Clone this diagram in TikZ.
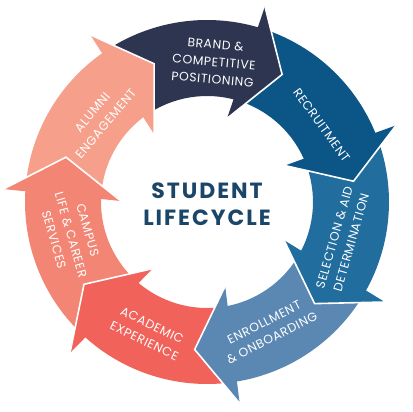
\documentclass[tikz,border=0pt]{standalone}
\usepackage{fontspec}
\setmainfont{Poppins}
\definecolor{brandc}{RGB}{46,53,80}
\definecolor{recruitc}{RGB}{12,85,135}
\definecolor{selectc}{RGB}{33,109,158}
\definecolor{enrollc}{RGB}{91,135,179}
\definecolor{academicc}{RGB}{240,98,90}
\definecolor{campusc}{RGB}{242,133,116}
\definecolor{alumnic}{RGB}{246,160,140}
\definecolor{hubc}{RGB}{27,70,104}
\tikzset{
	gap/.style={draw=white,line width=1.6pt},
	lbl/.style={text=white,font=\fontsize{12.3}{17.5}\selectfont\addfontfeature{LetterSpace=5},align=center,inner sep=0pt},
	hub/.style={text=hubc,font=\bfseries\fontsize{22}{27.5}\selectfont\addfontfeature{LetterSpace=9},align=center,inner sep=0pt}
}

\begin{document}
\begin{tikzpicture}
	\useasboundingbox (-207pt,-210pt) rectangle (205pt,202pt);

	% ring pieces
	\fill[brandc] (73.5:182pt) arc[start angle=73.5,end angle=124.93,radius=182pt] -- (124.93:106pt) arc[start angle=124.93,end angle=73.5,radius=106pt] -- cycle;
	\fill[recruitc] (22.07:182pt) arc[start angle=22.07,end angle=73.5,radius=182pt] -- (73.5:106pt) arc[start angle=73.5,end angle=22.07,radius=106pt] -- cycle;
	\fill[selectc] (-29.36:182pt) arc[start angle=-29.36,end angle=22.07,radius=182pt] -- (22.07:106pt) arc[start angle=22.07,end angle=-29.36,radius=106pt] -- cycle;
	\fill[enrollc] (-80.79:182pt) arc[start angle=-80.79,end angle=-29.36,radius=182pt] -- (-29.36:106pt) arc[start angle=-29.36,end angle=-80.79,radius=106pt] -- cycle;
	\fill[academicc] (-132.21:182pt) arc[start angle=-132.21,end angle=-80.79,radius=182pt] -- (-80.79:106pt) arc[start angle=-80.79,end angle=-132.21,radius=106pt] -- cycle;
	\fill[campusc] (-183.64:182pt) arc[start angle=-183.64,end angle=-132.21,radius=182pt] -- (-132.21:106pt) arc[start angle=-132.21,end angle=-183.64,radius=106pt] -- cycle;
	\fill[alumnic] (-235.07:182pt) arc[start angle=-235.07,end angle=-183.64,radius=182pt] -- (-183.64:106pt) arc[start angle=-183.64,end angle=-235.07,radius=106pt] -- cycle;

	% heads
	\fill[brandc] (73.5:204pt) -- (59.5:148pt) -- (76.5:86pt) -- cycle;
	\draw[gap] (73.5:204pt) -- (59.5:148pt) -- (76.5:86pt);
	\fill[recruitc] (22.07:204pt) -- (8.07:148pt) -- (25.07:86pt) -- cycle;
	\draw[gap] (22.07:204pt) -- (8.07:148pt) -- (25.07:86pt);
	\fill[selectc] (-29.36:204pt) -- (-43.36:148pt) -- (-26.36:86pt) -- cycle;
	\draw[gap] (-29.36:204pt) -- (-43.36:148pt) -- (-26.36:86pt);
	\fill[enrollc] (-80.79:204pt) -- (-94.79:148pt) -- (-77.79:86pt) -- cycle;
	\draw[gap] (-80.79:204pt) -- (-94.79:148pt) -- (-77.79:86pt);
	\fill[academicc] (-132.21:204pt) -- (-146.21:148pt) -- (-129.21:86pt) -- cycle;
	\draw[gap] (-132.21:204pt) -- (-146.21:148pt) -- (-129.21:86pt);
	\fill[campusc] (-183.64:204pt) -- (-197.64:148pt) -- (-180.64:86pt) -- cycle;
	\draw[gap] (-183.64:204pt) -- (-197.64:148pt) -- (-180.64:86pt);
	\fill[alumnic] (-235.07:204pt) -- (-249.07:148pt) -- (-232.07:86pt) -- cycle;
	\draw[gap] (-235.07:204pt) -- (-249.07:148pt) -- (-232.07:86pt);

	% labels
	\node[lbl,rotate=-5] (brand) at (87.1:140.2pt) {BRAND \&\\COMPETITIVE\\POSITIONING};
	\node[lbl,rotate=-54] (recruit) at (33.8:138pt) {RECRUITMENT};
	\node[lbl,rotate=74] (select) at (-15.6:141pt) {SELECTION \& AID\\DETERMINATION};
	\node[lbl,rotate=27] (enroll) at (-64.5:142pt) {ENROLLMENT\\\& ONBOARDING};
	\node[lbl,rotate=-26] (academic) at (-114.2:143.7pt) {ACADEMIC\\EXPERIENCE};
	\node[lbl,rotate=-74] (campus) at (-166.4:140pt) {CAMPUS\\LIFE \& CAREER\\SERVICES};
	\node[lbl,rotate=50] (alumni) at (142.1:136.8pt) {ALUMNI\\ENGAGEMENT};
	\node[hub] (hub) at (0pt,-2.4pt) {STUDENT\\LIFECYCLE};
\end{tikzpicture}
\end{document}
